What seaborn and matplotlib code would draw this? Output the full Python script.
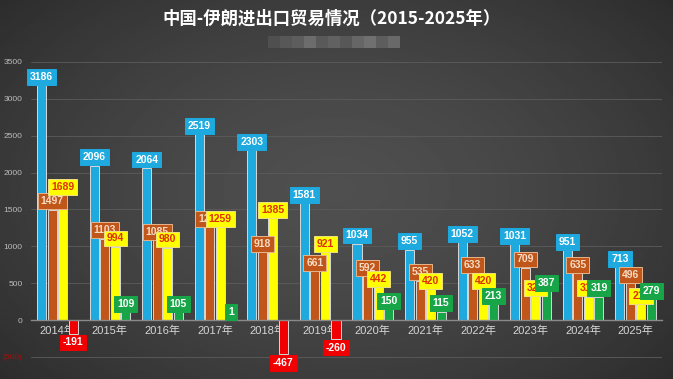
import numpy as np
import pandas as pd
import matplotlib.pyplot as plt
import matplotlib.patches as mpatches
import seaborn as sns

# data (亿美元)
years = ['2014年', '2015年', '2016年', '2017年', '2018年', '2019年',
         '2020年', '2021年', '2022年', '2023年', '2024年', '2025年']
total = [3186, 2096, 2064, 2519, 2303, 1581, 1034, 955, 1052, 1031, 951, 713]
export = [1497, 1103, 1085, 1260, 918, 661, 592, 535, 633, 709, 635, 496]
imports = [1689, 994, 980, 1259, 1385, 921, 442, 420, 420, 322, 316, 217]
balance = [-191, 109, 105, 1, -467, -260, 150, 115, 213, 387, 319, 279]
series = ['总额', '出口', '进口', '差额']
ytick_vals = [-500, 0, 500, 1000, 1500, 2000, 2500, 3000, 3500]
ytick_labels = ['(500)', '0', '500', '1000', '1500', '2000', '2500', '3000', '3500']
title = '中国-伊朗进出口贸易情况（2015-2025年）'

df = pd.DataFrame({'year': years, '总额': total, '出口': export,
                   '进口': imports, '差额': balance})
df = df.melt(id_vars='year', var_name='series', value_name='value')

sns.set_style('dark')
plt.rcParams['font.family'] = ['Liberation Sans', 'Noto Sans CJK SC', 'DejaVu Sans']

bar_colors = {'总额': '#1ea9df', '出口': '#c0561a', '进口': '#ffff00', '差额': '#17a548'}
neg_color = '#f00000'

fig = plt.figure(figsize=(6.73, 3.79), dpi=100)

# dark vignette background
bg = fig.add_axes([0, 0, 1, 1])
yy, xx = np.mgrid[0:1:200j, 0:1:300j]
r = np.sqrt(((xx - 0.5) / 0.75) ** 2 + ((yy - 0.5) / 0.85) ** 2)
bg.imshow(0.31 - 0.16 * r ** 1.5, cmap='gray', vmin=0, vmax=1, aspect='auto',
          extent=[0, 1, 0, 1])
bg.set_axis_off()

# pixelated watermark under title
greys = ['#5a5a5a', '#666666', '#707070', '#8a8a8a', '#6a6a6a', '#777777',
         '#666666', '#7f7f7f', '#909090', '#707070', '#858585']
for i, g in enumerate(greys):
    fig.patches.append(mpatches.Rectangle((268 / 673 + i * 12 / 673, 1 - 48 / 379),
                                          12 / 673, 12 / 379, transform=fig.transFigure,
                                          fc=g, ec='none', alpha=0.6))

ax = fig.add_axes([31 / 673, 0, 631 / 673, 317 / 379])
ax.patch.set_alpha(0)

sns.barplot(data=df, x='year', y='value', hue='series', hue_order=series,
            palette=bar_colors, saturation=1, gap=0.14, edgecolor='#d8d8d8',
            linewidth=0.7, legend=False, ax=ax)

for bar in ax.containers[3]:
    if bar.get_height() < 0:
        bar.set_facecolor(neg_color)

label_style = {
    0: dict(fc='#1ea9df', ec='#1ea9df', tc='white'),
    1: dict(fc='#c0561a', ec='#e6b48c', tc='#f6dcc4'),
    2: dict(fc='#ffff00', ec='#f0e080', tc='#e0300a'),
    3: dict(fc='#17a548', ec='#17a548', tc='white'),
}
for i, cont in enumerate(ax.containers):
    st = label_style[i]
    for bar in cont:
        v = bar.get_height()
        x = bar.get_x() + bar.get_width() / 2
        fc, ec = st['fc'], st['ec']
        if v < 0:
            fc = ec = neg_color
            y, va = v - 45, 'top'
        else:
            y, va = v + 45, 'bottom'
        ax.text(x, y, f'{v:.0f}', ha='center', va=va, fontsize=7.5, fontweight='bold',
                color=st['tc'], zorder=5, clip_on=False,
                bbox=dict(boxstyle='square,pad=0.28', fc=fc, ec=ec, lw=0.7))

ax.set_xlim(-0.5, len(years) - 0.5)
ax.set_ylim(-800, 3500)
ax.set_yticks(ytick_vals)
ax.set_yticklabels(ytick_labels)
for lbl in ax.get_yticklabels():
    lbl.set_color('#a01010' if lbl.get_text().startswith('(') else '#bdbdbd')
ax.tick_params(axis='y', length=0, pad=6, labelsize=6)
ax.tick_params(axis='x', length=0, pad=4, labelsize=8, labelcolor='#d5d5d5')
for lbl in ax.get_xticklabels():
    lbl.set_fontfamily(['Liberation Serif', 'Noto Sans CJK SC'])
ax.set_xlabel('')
ax.set_ylabel('')
ax.set_axisbelow(True)
ax.yaxis.grid(True, color='#5c5c5c', lw=0.6)
ax.xaxis.grid(False)
for s in ['top', 'right', 'left']:
    ax.spines[s].set_visible(False)
ax.spines['bottom'].set_position(('data', 0))
ax.spines['bottom'].set_color('#8a8a8a')
ax.spines['bottom'].set_linewidth(1)

fig.text(0.492, 0.952, title, ha='center', va='center', fontsize=12.5,
         fontweight='bold', color='white', family=['Noto Sans CJK SC', 'DejaVu Sans'])

fig.savefig('out.png', dpi=100)
